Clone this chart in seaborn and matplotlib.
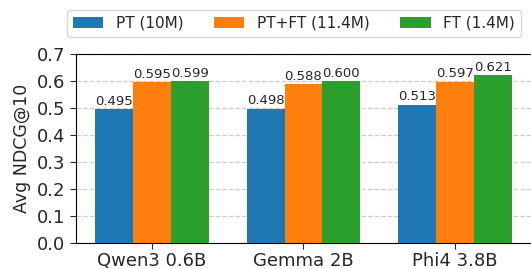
import numpy as np
import pandas as pd
import matplotlib
matplotlib.use("Agg")
import matplotlib.pyplot as plt
import seaborn as sns

models = ["Qwen3 0.6B", "Gemma 2B", "Phi4 3.8B"]
settings = ["PT (10M)", "PT+FT (11.4M)", "FT (1.4M)"]
pt = [0.495, 0.498, 0.513]
pt_ft = [0.595, 0.588, 0.597]
ft = [0.599, 0.600, 0.621]

df = pd.DataFrame({
    "model": models * 3,
    "setting": [settings[0]] * 3 + [settings[1]] * 3 + [settings[2]] * 3,
    "score": pt + pt_ft + ft,
})

sns.set_style("white")
plt.rcParams["font.family"] = ["DejaVu Sans"]

fig = plt.figure(figsize=(5.31, 2.69), dpi=100)
ax = fig.add_axes([0.143, 0.097, 0.857, 0.702])

sns.barplot(data=df, x="model", y="score", hue="setting", palette="tab10",
            saturation=1, width=0.75, linewidth=0, ax=ax, zorder=3)

for c in ax.containers:
    ax.bar_label(c, fmt="%.3f", fontsize=9.5, padding=1)

ax.set_ylim(0, 0.7)
ax.set_yticks(np.arange(0, 0.71, 0.1))
ax.set_xlim(-0.5, 2.5)
ax.yaxis.grid(True, linestyle="--", color="#cccccc", linewidth=0.9, zorder=0)
ax.set_axisbelow(True)
ax.set_xlabel("")
ax.set_ylabel("Avg NDCG@10", fontsize=12.5)
ax.tick_params(axis="both", labelsize=13, length=4, left=True, bottom=True)
ax.tick_params(axis="x", pad=2.5)
ax.spines["right"].set_visible(False)
for s in ["left", "bottom", "top"]:
    ax.spines[s].set_color("black")

ax.legend(loc="lower left", bbox_to_anchor=(-0.02, 1.09), ncol=3, fontsize=11,
          frameon=True, borderaxespad=0, columnspacing=2.0, handlelength=2.0)
ax.get_legend().set_title(None)

fig.savefig("out.png", dpi=100)
